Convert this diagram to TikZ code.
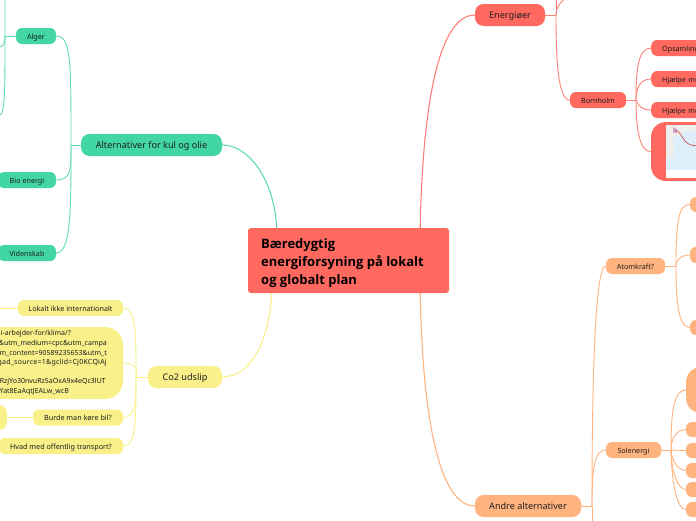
\documentclass[tikz,border=0pt]{standalone}
\usepackage{fontspec}
\setmainfont{Noto Sans}
\newfontfamily\rootfont{Open Sans}
\definecolor{red1}{HTML}{FF6960}
\definecolor{grn1}{HTML}{41D6A2}
\definecolor{yel1}{HTML}{F9F08A}
\definecolor{org1}{HTML}{FFB37F}
\definecolor{ink}{HTML}{1E1E1E}
\definecolor{sea}{HTML}{DDEFFA}
\definecolor{land}{HTML}{EFEFEC}
\tikzset{
  box/.style={rectangle,inner sep=0pt,text=ink,font=\fontsize{7.2}{9.6}\selectfont,rounded corners=6pt,text height=7.5pt,text depth=1pt},
  big/.style={box,font=\fontsize{9.1}{12}\selectfont,rounded corners=8.5pt,text height=8.5pt,text depth=1pt},
  tog/.style={fill=grn1},toy/.style={fill=yel1},tor/.style={fill=red1},too/.style={fill=org1},
  gl/.style={draw=grn1!85!white,line width=.9pt},
  yl/.style={draw=yel1,line width=.9pt},
  rl/.style={draw=red1!85!white,line width=.9pt},
  ol/.style={draw=org1,line width=.9pt},
  url/.style={inner sep=0pt,anchor=east,text=ink,font=\fontsize{7}{9}\selectfont},
  leftbox/.style={anchor=west,inner ysep=0pt,inner xsep=11pt,text width=90pt,align=left},
}
\begin{document}
\begin{tikzpicture}[x=1pt,y=-1pt]
\useasboundingbox (0,0) rectangle (696,520);
\clip (0,0) rectangle (696,520);
\fill[white] (0,0) rectangle (696,520);
% free ends
\coordinate (topL) at (5,-2);
\coordinate (endA) at (0,47);
\coordinate (endB) at (0,115);
\coordinate (endD) at (-2,308);
\coordinate (topE) at (556,-2);
\coordinate (topE2) at (566,-2);
% nodes
\node[rectangle,fill=red1,rounded corners=3pt,minimum width=201pt,minimum height=65pt,inner sep=0pt] (root) at (348.5,260.5) {};
\node[inner sep=0pt,anchor=north west,align=left,text=black,font=\rootfont\fontsize{13}{18.4}\bfseries\selectfont] (rootT) at (261,238) {Bæredygtig\\energiforsyning på lokalt\\og globalt plan};
\node[big,tog,minimum width=141pt,minimum height=22pt] (alt) at (151.5,145) {Alternativer for kul og olie};
\node[box,tog,minimum width=40pt,minimum height=16pt] (alger) at (36,36) {Alger};
\node[box,tog,minimum width=58pt,minimum height=16pt] (bio) at (27,180) {Bio energi};
\node[box,tog,minimum width=58pt,minimum height=16pt] (vid) at (27,253) {Videnskab};
\node[big,toy,minimum width=74pt,minimum height=22pt] (co2) at (185,377) {Co2 udslip};
\node[box,toy,minimum width=105pt,minimum height=16pt] (lok) at (70.5,308) {Lokalt ikke internationalt};
\node[box,toy,rounded corners=18pt,minimum width=145pt,minimum height=72pt] (urlb) at (50.5,363) {};
\node[url] (u1) at (71,334) {i-arbejder-for/klima/?};
\node[url] (u2) at (107,344) {\&utm\_medium=cpc\&utm\_campa};
\node[url] (u3) at (107,353.5) {m\_content=90589235653\&utm\_t};
\node[url] (u4) at (107,363) {\addfontfeature{LetterSpace=3.5}gad\_source=1\&gclid=Cj0KCQiAj};
\node[url] (u5) at (106,382) {RzjYo30nvuRz5aOxA9x4eQc3lUT};
\node[url] (u6) at (69,392) {Yat8EaAqtJEALw\_wcB};
\node[box,toy,minimum width=90pt,minimum height=16pt] (bur) at (78,417.5) {Burde man køre bil?};
\node[box,toy,rounded corners=8pt,minimum width=27pt,minimum height=25pt] (blob) at (-6.5,417.5) {};
\node[box,toy,minimum width=124pt,minimum height=16pt] (hvad) at (61,446) {Hvad med offentlig transport?};
\node[big,tor,minimum width=70pt,minimum height=22pt] (ene) at (510,15) {Energiøer};
\node[box,tor,minimum width=56pt,minimum height=16pt] (born) at (598,100) {Bornholm};
\node[box,tor,leftbox,minimum height=16pt] (ops) at (651,48) {Opsamling};
\node[box,tor,leftbox,minimum height=16pt] (hj1) at (651,79) {Hjælpe me};
\node[box,tor,leftbox,minimum height=16pt] (hj2) at (651,110) {Hjælpe me};
\node[box,tor,rounded corners=15pt,minimum width=100pt,minimum height=59pt] (imgb) at (701,151.5) {};
\node[big,too,minimum width=106pt,minimum height=22pt] (andre) at (528,506) {Andre alternativer};
\node[box,too,minimum width=59pt,minimum height=16pt] (atom) at (635.5,266) {Atomkraft?};
\node[box,too,minimum width=55pt,minimum height=16pt] (sol) at (633.5,450) {Solenergi};
\node[box,too,minimum width=40pt,minimum height=15pt] (a1) at (710,204.5) {};
\node[box,too,minimum width=40pt,minimum height=16pt] (a2) at (710,255) {};
\node[box,too,minimum width=40pt,minimum height=15pt] (a3) at (710,327.5) {};
\node[box,too,rounded corners=15pt,minimum width=60pt,minimum height=46pt] (s0) at (716,390) {};
\node[box,too,minimum width=40pt,minimum height=15pt] (s1) at (706,429.5) {};
\node[box,too,minimum width=40pt,minimum height=15pt] (s2) at (706,450.5) {};
\node[box,too,minimum width=40pt,minimum height=15pt] (s3) at (706,470.5) {};
\node[box,too,minimum width=40pt,minimum height=15pt] (s4) at (706,489.5) {};
\node[box,too,minimum width=40pt,minimum height=15pt] (s5) at (706,509.5) {};
% map picture
\fill[sea] (666,125) rectangle (700,178);
\fill[land] (666,125) -- (700,125) -- (700,130) -- (684,132) .. controls (680,135) and (678,138) .. (676,135) -- (672,142) .. controls (678,150) and (674,158) .. (666,160) -- cycle;
\fill[white] (666,170) rectangle (700,178);
\fill[violet!35!white] (673,127) -- (677,129) -- (677,133) -- (673,133) -- cycle;
\draw[red1!80!black,line width=.7pt] (675,130) .. controls (680,131) and (680,135) .. (683,138) .. controls (685,143) and (690,146) .. (700,146);
% connectors
\draw[gl,line width=1.1pt] (root.north west)++(29,0) .. controls +(-3,-50) and (248,145) .. (alt.east);
\draw[gl] (alt.west) -- (71,145);
\draw[gl] (71,145) .. controls (71,60) and (71,36) .. (alger.east);
\draw[gl] (71,145) .. controls (71,170) and (71,180) .. (bio.east);
\draw[gl] (71,145) .. controls (71,210) and (71,253) .. (vid.east);
\draw[gl] (alger.west) -- (5,36);
\draw[gl] (topL) -- (5,36) .. controls (5,42) and (4,46) .. (endA);
\draw[gl] (5,36) .. controls (5,90) and (5,113) .. (endB);
\draw[yl,line width=1.1pt] (root.south west)++(24,0) .. controls +(-3,50) and (250,377) .. (co2.east);
\draw[yl] (co2.west) -- (136,377);
\draw[yl] (136,377) .. controls (136,330) and (136,308) .. (lok.east);
\draw[yl] (136,377) .. controls (139,370) and (135,363) .. (urlb.east);
\draw[yl] (136,377) .. controls (136,400) and (136,417.5) .. (bur.east);
\draw[yl] (136,377) .. controls (136,420) and (136,446) .. (hvad.east);
\draw[yl] (lok.west) -- (endD);
\draw[yl] (bur.west) -- (blob.east);
\draw[rl,line width=1.1pt] (root.north east)++(-29,0) .. controls +(3,-150) and (445,15) .. (ene.west);
\draw[rl] (ene.east) -- (556,15);
\draw[rl] (556,15) .. controls (556,9) and (558,4) .. (topE2);
\draw[rl] (556,15) -- (topE);
\draw[rl] (556,15) .. controls (556,60) and (558,100) .. (born.west);
\draw[rl] (born.east) -- (636,100);
\draw[rl] (636,100) .. controls (636,70) and (638,48) .. (ops.west);
\draw[rl] (636,100) .. controls (636,88) and (640,79) .. (hj1.west);
\draw[rl] (636,100) .. controls (638,106) and (642,110) .. (hj2.west);
\draw[rl] (636,100) .. controls (636,130) and (640,152) .. (imgb.west);
\draw[ol,line width=1.1pt] (root.south east)++(-29,0) .. controls +(3,150) and (445,506) .. (andre.west);
\draw[ol] (andre.east) -- (592,506);
\draw[ol] (592,506) .. controls (592,400) and (594,266) .. (atom.west);
\draw[ol] (592,506) .. controls (592,470) and (594,450) .. (sol.west);
\draw[ol] (592,506) -- (592,522);
\draw[ol] (atom.east) -- (676,266);
\draw[ol] (676,266) .. controls (676,225) and (678,204) .. (a1.west);
\draw[ol] (676,266) .. controls (677,258) and (682,255) .. (a2.west);
\draw[ol] (676,266) .. controls (676,300) and (678,327) .. (a3.west);
\draw[ol] (sol.east) -- (671,450);
\draw[ol] (671,450) .. controls (671,415) and (673,390) .. (s0.west);
\draw[ol] (671,450) .. controls (671,437) and (677,430) .. (s1.west);
\draw[ol] (671,450) -- (s2.west);
\draw[ol] (671,450) .. controls (672,462) and (678,470) .. (s3.west);
\draw[ol] (671,450) .. controls (672,475) and (678,489) .. (s4.west);
\draw[ol] (671,450) .. controls (672,490) and (678,509) .. (s5.west);
\end{tikzpicture}
\end{document}
